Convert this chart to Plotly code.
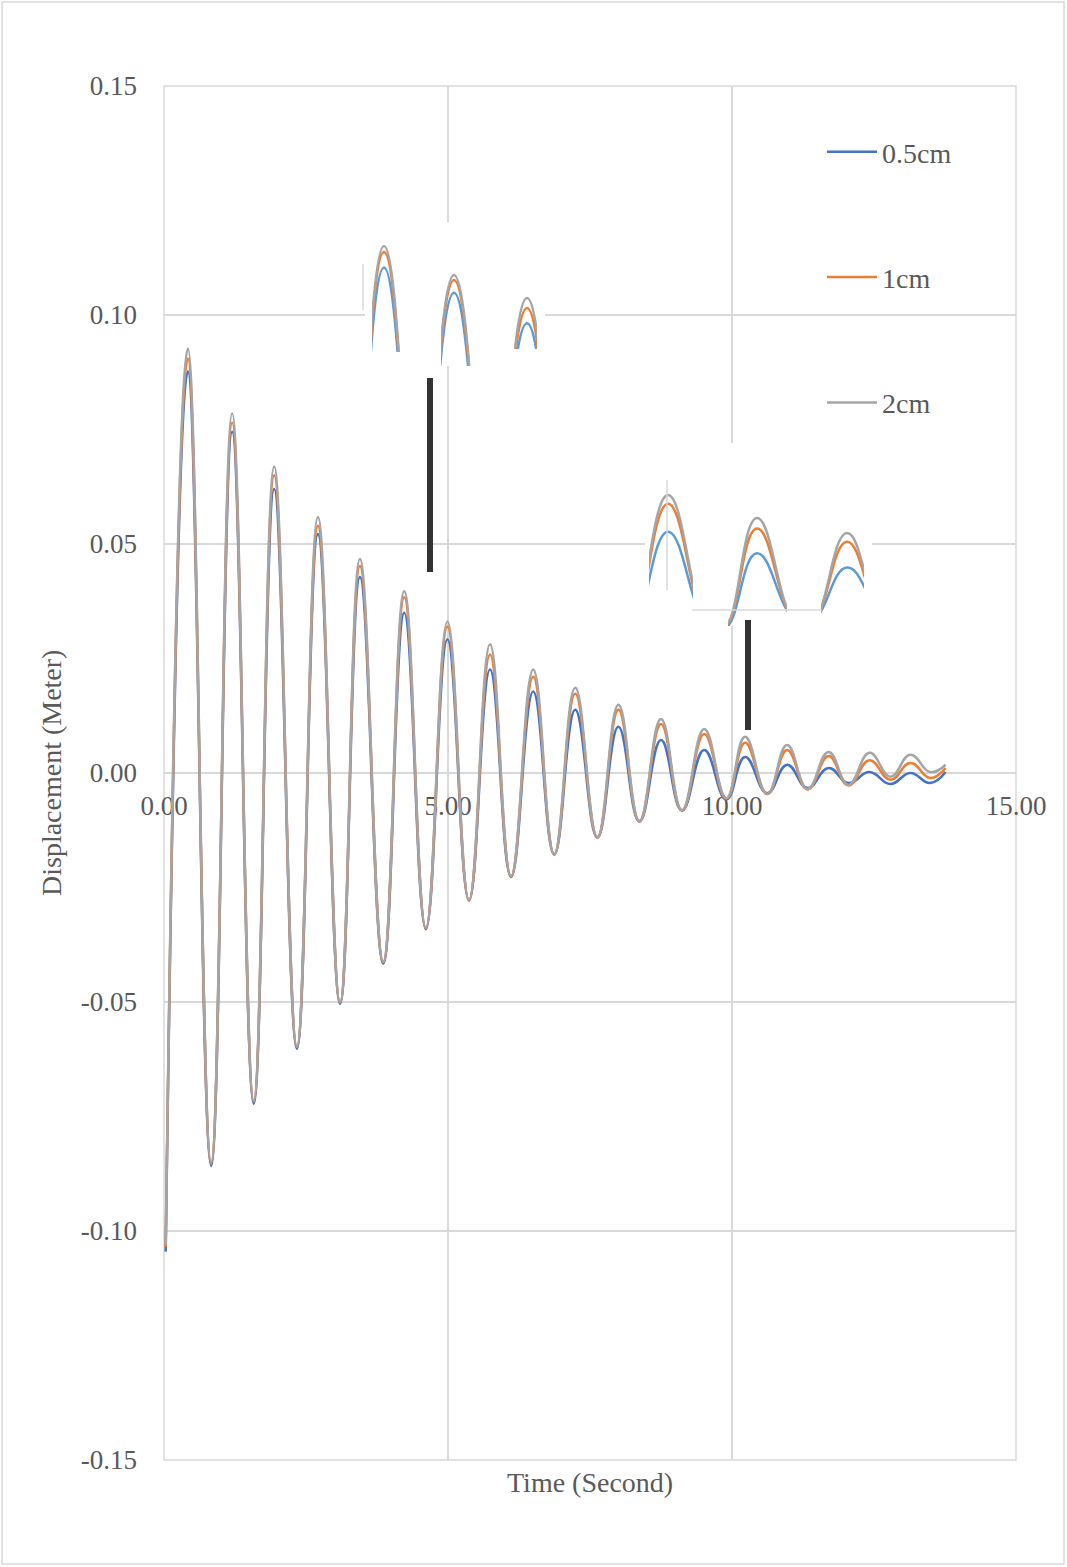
import plotly.graph_objects as go

# ---------------- data ----------------
# times of successive extrema (trough, peak, trough, ...) and final point, seconds
t_ext = [0.03, 0.42, 0.83, 1.20, 1.58, 1.94, 2.34, 2.71, 3.10, 3.45,
         3.86, 4.23, 4.61, 4.99, 5.37, 5.74, 6.11, 6.50, 6.87, 7.24,
         7.63, 8.00, 8.37, 8.75, 9.12, 9.51, 9.90, 10.23, 10.62, 10.97,
         11.33, 11.70, 12.05, 12.42, 12.79, 13.14, 13.49, 13.76]

disp_05cm = [-0.1045, 0.0877, -0.0858, 0.0745, -0.0722, 0.0620, -0.0602, 0.0522, -0.0504, 0.0428,
             -0.0416, 0.0350, -0.0341, 0.0292, -0.0278, 0.0226, -0.0227, 0.0178, -0.0178, 0.0138,
             -0.0141, 0.0101, -0.0106, 0.0072, -0.0082, 0.0050, -0.0058, 0.0035, -0.0044, 0.0018,
             -0.0033, 0.0011, -0.0022, 0.0002, -0.0024, 0.0000, -0.0022, 0.0002]

disp_1cm = [-0.1035, 0.0905, -0.0852, 0.0765, -0.0717, 0.0650, -0.0598, 0.0540, -0.0501, 0.0452,
            -0.0413, 0.0384, -0.0339, 0.0320, -0.0279, 0.0259, -0.0226, 0.0210, -0.0178, 0.0173,
            -0.0141, 0.0138, -0.0106, 0.0107, -0.0082, 0.0085, -0.0056, 0.0066, -0.0046, 0.0050,
            -0.0036, 0.0037, -0.0027, 0.0028, -0.0015, 0.0022, -0.0011, 0.0011]

disp_2cm = [-0.1030, 0.0927, -0.0850, 0.0785, -0.0715, 0.0669, -0.0597, 0.0559, -0.0500, 0.0467,
            -0.0412, 0.0397, -0.0338, 0.0331, -0.0277, 0.0281, -0.0225, 0.0226, -0.0177, 0.0186,
            -0.0140, 0.0149, -0.0105, 0.0118, -0.0081, 0.0096, -0.0055, 0.0079, -0.0046, 0.0061,
            -0.0035, 0.0046, -0.0026, 0.0044, -0.0008, 0.0040, 0.0002, 0.0018]

series_names = ["0.5cm", "1cm", "2cm"]
x_ticks = [0, 5, 10, 15]
x_tick_labels = ["0.00", "5.00", "10.00", "15.00"]
y_ticks = [-0.15, -0.10, -0.05, 0.00, 0.05, 0.10, 0.15]
y_tick_labels = ["-0.15", "-0.10", "-0.05", "0.00", "0.05", "0.10", "0.15"]

# ---------------- styling / geometry ----------------
W, H = 1067, 1567
PX_L, PX_R, PX_T, PX_B = 164, 1016, 86, 1460
X_MIN, X_MAX, Y_MIN, Y_MAX = 0, 15, -0.15, 0.15
X_PER = (PX_R - PX_L) / (X_MAX - X_MIN)
Y_PER = (PX_B - PX_T) / (Y_MAX - Y_MIN)

def paper_x(px):
    return (px - PX_L) / (PX_R - PX_L)

def paper_y(py):
    return (PX_B - py) / (PX_B - PX_T)

def data_x(px):
    return X_MIN + (px - PX_L) / X_PER

def data_y(py):
    return Y_MIN + (PX_B - py) / Y_PER

colors = ["#4472C4", "#ED7D31", "#A5A5A5"]
inset_colors = ["#5B9BD5", "#ED7D31", "#A5A5A5"]
series = [disp_05cm, disp_1cm, disp_2cm]
FONT = "Liberation Serif"
TXT = "#595959"
GRID = "#D9D9D9"
SMOOTH = 1.3

fig = go.Figure()

for i, (name, vals) in enumerate(zip(series_names, series)):
    fig.add_trace(go.Scatter(
        x=t_ext, y=vals, name=name, mode="lines",
        line=dict(color=colors[i], width=2.5, shape="spline", smoothing=SMOOTH),
        legendgroup=name, xaxis="x", yaxis="y"))

# zoomed insets: (extremum index, box x0, x1, y0, y1, anchor px, anchor py, magnif x, magnif y)
insets = [
    (11, 372, 401, 236, 352, 384, 246, 1.8, 1.0),
    (13, 441, 471, 265, 366, 454, 275, 1.8, 1.0),
    (15, 514, 537, 290, 349, 527, 298, 1.8, 1.0),
    (25, 649, 693, 485, 611, 668, 495, 1.75, 1.75),
    (27, 728, 787, 508, 626, 757, 518, 1.75, 1.75),
    (29, 821, 864, 523, 614, 847, 533, 1.75, 1.75),
]

layout_axes = {}
for k, (idx, x0, x1, y0, y1, ax, ay, mx, my) in enumerate(insets):
    n = k + 2
    t_pk = t_ext[idx]
    v_pk = disp_2cm[idx]
    xr = [t_pk + (x0 - ax) / (X_PER * mx), t_pk + (x1 - ax) / (X_PER * mx)]
    yr = [v_pk + (ay - y1) / (Y_PER * my), v_pk + (ay - y0) / (Y_PER * my)]
    layout_axes[f"xaxis{n}"] = dict(domain=[paper_x(x0), paper_x(x1)], range=xr,
                                    anchor=f"y{n}", visible=False, showgrid=False, zeroline=False)
    layout_axes[f"yaxis{n}"] = dict(domain=[paper_y(y1), paper_y(y0)], range=yr,
                                    anchor=f"x{n}", visible=False, showgrid=False, zeroline=False)
    for i, vals in enumerate(series):
        fig.add_trace(go.Scatter(
            x=t_ext, y=vals, mode="lines", showlegend=False, hoverinfo="skip",
            line=dict(color=inset_colors[i], width=2.5, shape="spline", smoothing=SMOOTH),
            xaxis=f"x{n}", yaxis=f"y{n}"))

shapes = []
# plot-area frame (gridlines at the range edges)
shapes.append(dict(type="rect", xref="paper", yref="paper", layer="below",
                   x0=0, x1=1, y0=0, y1=1, line=dict(color=GRID, width=1.5),
                   fillcolor="rgba(0,0,0,0)"))
# white backgrounds behind insets (hide the gridlines)
for (bx0, bx1, by0, by1) in [(365, 545, 222, 366), (645, 872, 443, 625)]:
    shapes.append(dict(type="rect", xref="x", yref="y", layer="between",
                       x0=data_x(bx0), x1=data_x(bx1), y0=data_y(by1), y1=data_y(by0),
                       fillcolor="white", line=dict(width=0)))
# gridline fragments of the pasted insets
for (fx0, fy0, fx1, fy1) in [(363, 264, 363, 310), (667, 480, 667, 590), (692, 610, 822, 610)]:
    shapes.append(dict(type="line", xref="paper", yref="paper",
                       x0=paper_x(fx0), y0=paper_y(fy0), x1=paper_x(fx1), y1=paper_y(fy1),
                       line=dict(color=GRID, width=1.5)))
# dark connector bars
for (bx, by0, by1) in [(430, 378, 572), (748, 620, 730)]:
    shapes.append(dict(type="line", xref="paper", yref="paper",
                       x0=paper_x(bx), y0=paper_y(by0), x1=paper_x(bx), y1=paper_y(by1),
                       line=dict(color="#333333", width=6)))
# outer border of the picture
shapes.append(dict(type="rect", xref="paper", yref="paper",
                   x0=paper_x(2), x1=paper_x(1064), y0=paper_y(1564), y1=paper_y(2),
                   line=dict(color=GRID, width=1.5), fillcolor="rgba(0,0,0,0)"))

annotations = [
    dict(text="Time (Second)", xref="paper", yref="paper", x=paper_x(590), y=paper_y(1483),
         xanchor="center", yanchor="middle", showarrow=False,
         font=dict(family=FONT, size=28, color=TXT)),
    dict(text="Displacement (Meter)", xref="paper", yref="paper", x=paper_x(51), y=0.5,
         xanchor="center", yanchor="middle", showarrow=False, textangle=-90,
         font=dict(family=FONT, size=28, color=TXT)),
]

fig.update_layout(
    width=W, height=H,
    margin=dict(l=PX_L, r=W - PX_R, t=PX_T, b=H - PX_B, pad=0),
    paper_bgcolor="white", plot_bgcolor="white",
    font=dict(family=FONT, size=27, color=TXT),
    xaxis=dict(range=[X_MIN, X_MAX], tickvals=x_ticks, ticktext=x_tick_labels,
               showgrid=True, gridcolor=GRID, gridwidth=1.5, zeroline=False,
               showline=False, anchor="free", position=0.5, layer="below traces",
               ticks="", ticklabelstandoff=14,
               tickfont=dict(family=FONT, size=27, color=TXT)),
    yaxis=dict(range=[Y_MIN, Y_MAX], tickvals=y_ticks, ticktext=y_tick_labels,
               showgrid=True, gridcolor=GRID, gridwidth=1.5,
               zeroline=True, zerolinecolor=GRID, zerolinewidth=1.5,
               showline=False, ticks="", ticklabelstandoff=26,
               tickfont=dict(family=FONT, size=27, color=TXT)),
    legend=dict(x=paper_x(822), y=paper_y(127), xanchor="left", yanchor="top",
                bgcolor="rgba(255,255,255,0)", tracegroupgap=86, itemwidth=50,
                font=dict(family=FONT, size=28, color=TXT)),
    shapes=shapes, annotations=annotations,
    **layout_axes,
)

fig.write_html("out.html", config={"displayModeBar": False},
               post_script="document.body.style.margin='0';")
